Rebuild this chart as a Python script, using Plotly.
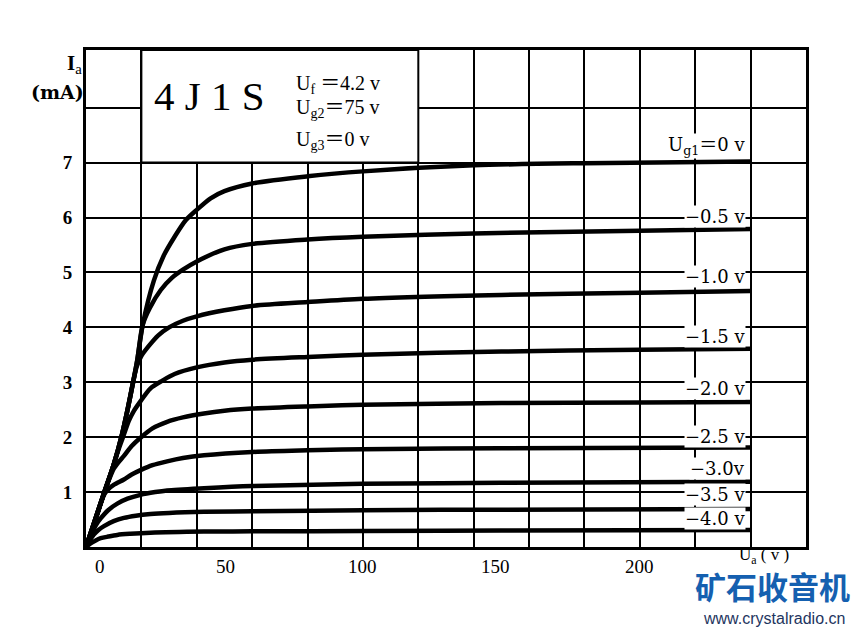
import plotly.graph_objects as go

# ---------------- data ----------------
curve_labels = ["U<sub>g1</sub>＝0 v", "−0.5 v", "−1.0 v", "−1.5 v", "−2.0 v",
                "−2.5 v", "−3.0v", "−3.5 v", "−4.0 v"]
label_y = [7.31, 6.02, 4.92, 3.83, 2.89, 2.01, 1.43, 0.95, 0.52]

va_0 = [0, 3, 6.5, 10, 13, 15, 17, 18.5, 20.5, 24.5, 28, 32, 36, 40, 45, 50, 60, 80, 100, 140, 180, 240]
ia_0 = [0, 0.45, 0.98, 1.5, 2.05, 2.5, 3.0, 3.4, 4.05, 4.85, 5.3, 5.65, 5.95, 6.14, 6.35, 6.48, 6.62, 6.75, 6.84, 6.95, 6.99, 7.02]

va_05 = [0, 3, 6.5, 10, 13, 15, 17, 18.5, 20.5, 23, 27, 31, 35, 40, 50, 60, 80, 100, 140, 200, 240]
ia_05 = [0, 0.45, 0.98, 1.5, 2.05, 2.5, 3.0, 3.4, 4.05, 4.35, 4.68, 4.9, 5.05, 5.2, 5.42, 5.52, 5.6, 5.65, 5.71, 5.76, 5.79]

va_10 = [0, 3, 6.5, 10, 13, 15, 17, 18.3, 20, 23, 26, 30, 35, 40, 50, 60, 80, 100, 150, 200, 240]
ia_10 = [0, 0.45, 0.98, 1.5, 2.05, 2.5, 3.0, 3.28, 3.48, 3.68, 3.85, 4.0, 4.12, 4.2, 4.31, 4.39, 4.46, 4.52, 4.59, 4.63, 4.66]

va_15 = [0, 3, 6.5, 10, 11.5, 13.5, 15.5, 17.3, 19.2, 23.3, 27.6, 32, 40, 50, 60, 80, 100, 150, 200, 240]
ia_15 = [0, 0.45, 0.98, 1.5, 1.74, 2.02, 2.3, 2.48, 2.62, 2.89, 3.03, 3.15, 3.27, 3.36, 3.41, 3.46, 3.5, 3.56, 3.59, 3.61]

va_20 = [0, 3, 6.5, 8.9, 10.1, 12, 13.7, 16.5, 19.7, 24, 29.3, 35, 42.6, 50, 60, 80, 100, 150, 200, 240]
ia_20 = [0, 0.45, 0.98, 1.3, 1.43, 1.56, 1.66, 1.84, 1.99, 2.16, 2.28, 2.36, 2.43, 2.48, 2.52, 2.56, 2.59, 2.62, 2.63, 2.64]

va_25 = [0, 2, 4, 6.5, 8, 10, 13.7, 16.5, 19.7, 24, 29.3, 35, 42.6, 60, 80, 100, 150, 240]
ia_25 = [0, 0.28, 0.58, 0.95, 1.05, 1.13, 1.23, 1.32, 1.4, 1.49, 1.56, 1.62, 1.67, 1.73, 1.76, 1.78, 1.8, 1.81]

va_30 = [0, 2, 3.6, 5.3, 8, 11.3, 15, 19.7, 25, 29.3, 42.6, 60, 100, 150, 240]
ia_30 = [0, 0.24, 0.4, 0.52, 0.67, 0.79, 0.88, 0.95, 1.0, 1.03, 1.07, 1.11, 1.15, 1.17, 1.19]

va_35 = [0, 1.5, 2.9, 4.5, 6.5, 10, 13.7, 18, 23.3, 30, 42.6, 60, 100, 150, 240]
ia_35 = [0, 0.13, 0.23, 0.31, 0.38, 0.47, 0.53, 0.57, 0.6, 0.62, 0.64, 0.65, 0.67, 0.68, 0.69]

va_40 = [0, 1.8, 3.5, 5.3, 8, 11.3, 16, 23.3, 42.6, 60, 100, 150, 240]
ia_40 = [0, 0.07, 0.12, 0.16, 0.19, 0.22, 0.24, 0.26, 0.28, 0.285, 0.29, 0.3, 0.31]

series = [(va_0, ia_0), (va_05, ia_05), (va_10, ia_10), (va_15, ia_15), (va_20, ia_20),
          (va_25, ia_25), (va_30, ia_30), (va_35, ia_35), (va_40, ia_40)]

x_tick_text = ["0", "50", "100", "150", "200"]
x_tick_pos = [5, 50.5, 100, 148, 200]
y_tick_vals = [1, 2, 3, 4, 5, 6, 7, 8]
y_tick_text = ["1", "2", "3", "4", "5", "6", "7", " "]

title_text = "4 J 1 S"
param_texts = ["U<sub>f</sub> ＝4.2 v", "U<sub>g2</sub>＝75 v", "U<sub>g3</sub>＝0 v"]
param_y = [8.42, 7.98, 7.41]

# ---------------- figure ----------------
SERIF = "Liberation Serif, Noto Sans CJK JP, serif"
DSERIF = "DejaVu Serif, Noto Sans CJK JP, serif"

# the page body adds an 8 px offset; place the plot so it lands on the reference pixels
OFF = 8
W, H = 861 - OFF, 629 - OFF
L, R, T, B = 86 - OFF, 55, 50 - OFF, 82
pw, ph = W - L - R, H - T - B


def px_to_paper(px, py):
    return (px - OFF - L) / pw, (H - B - (py - OFF)) / ph


fig = go.Figure()
for (va, ia), name in zip(series, curve_labels):
    fig.add_trace(go.Scatter(x=va, y=ia, mode="lines", name=name,
                             line=dict(color="black", width=4.5, shape="spline", smoothing=0.8),
                             hoverinfo="skip", showlegend=False))

# title box (blank area without grid)
fig.add_shape(type="rect", xref="x", yref="y", x0=20, x1=120, y0=7, y1=9.05,
              fillcolor="white", line=dict(color="black", width=2), layer="between")

ann = []
ann.append(dict(x=24, y=8.21, xref="x", yref="y", text=title_text, showarrow=False,
                xanchor="left", yanchor="middle",
                font=dict(family=SERIF, size=41, color="black")))
for t, yy in zip(param_texts, param_y):
    ann.append(dict(x=75, y=yy, xref="x", yref="y", text=t, showarrow=False,
                    xanchor="left", yanchor="middle",
                    font=dict(family=SERIF, size=20, color="black")))
for t, yy in zip(curve_labels, label_y):
    ann.append(dict(x=238.5, y=yy, xref="x", yref="y", text=t, showarrow=False,
                    xanchor="right", yanchor="middle", bgcolor="white", borderpad=0,
                    font=dict(family=DSERIF, size=18, color="black")))
for t, xx in zip(x_tick_text, x_tick_pos):
    ann.append(dict(x=xx, y=0, xref="x", yref="paper", text=t, showarrow=False,
                    xanchor="center", yanchor="middle", yshift=-19,
                    font=dict(family=SERIF, size=19, color="black")))
# axis titles
ax, ay = px_to_paper(74, 64)
ann.append(dict(x=ax, y=ay, xref="paper", yref="paper", text="<b>I</b><sub>a</sub>", showarrow=False,
                xanchor="center", yanchor="middle",
                font=dict(family=SERIF, size=21, color="black")))
ax, ay = px_to_paper(86, 92)
ann.append(dict(x=ax, y=ay, xref="paper", yref="paper", text="<b>(mA)</b>", showarrow=False,
                xanchor="right", yanchor="middle",
                font=dict(family=DSERIF, size=19, color="black")))
ax, ay = px_to_paper(764, 556)
ann.append(dict(x=ax, y=ay, xref="paper", yref="paper", text="U<sub>a</sub> ( v )", showarrow=False,
                xanchor="center", yanchor="middle",
                font=dict(family=SERIF, size=17, color="black")))
# watermark
ax, ay = px_to_paper(772, 585)
ann.append(dict(x=ax, y=ay, xref="paper", yref="paper", text="<b>矿石收音机</b>", showarrow=False,
                xanchor="center", yanchor="middle",
                font=dict(family="Noto Sans CJK SC", size=31, color="#1560b0")))
ax, ay = px_to_paper(774, 618)
ann.append(dict(x=ax, y=ay, xref="paper", yref="paper", text="www.crystalradio.cn", showarrow=False,
                xanchor="center", yanchor="middle",
                font=dict(family="Liberation Sans, Arial, sans-serif", size=16, color="#1e3560")))

fig.update_layout(
    width=W, height=H, autosize=False,
    margin=dict(l=L, r=R, t=T, b=B, pad=0),
    paper_bgcolor="white", plot_bgcolor="white",
    showlegend=False,
    annotations=ann,
    xaxis=dict(range=[0, 260], tickvals=list(range(0, 261, 20)), showticklabels=False,
               showgrid=True, gridcolor="black", gridwidth=2,
               showline=True, linecolor="black", linewidth=3, mirror=True,
               zeroline=False, ticks="", fixedrange=True, automargin=False),
    yaxis=dict(range=[0, 9.05], tickvals=y_tick_vals, ticktext=y_tick_text,
               showgrid=True, gridcolor="black", gridwidth=2,
               showline=True, linecolor="black", linewidth=3, mirror=True,
               zeroline=False, ticks="", ticklabelstandoff=7, fixedrange=True, automargin=False,
               tickfont=dict(family=SERIF, size=19, color="black", weight="bold")),
)

fig.write_html("out.html")
